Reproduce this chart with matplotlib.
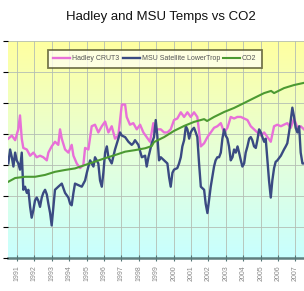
import numpy as np
import matplotlib
matplotlib.use("Agg")
import matplotlib.pyplot as plt
from matplotlib.colors import LinearSegmentedColormap

# ---------------- data ----------------
hadley_years = [1990.50, 1990.70, 1990.89, 1991.07, 1991.17, 1991.27, 1991.36, 1991.56, 1991.75, 1991.94,
                1992.13, 1992.32, 1992.51, 1992.71, 1992.80, 1992.99, 1993.18, 1993.37, 1993.47, 1993.57,
                1993.76, 1993.95, 1994.14, 1994.24, 1994.43, 1994.62, 1994.81, 1994.91, 1995.10, 1995.29,
                1995.48, 1995.67, 1995.87, 1996.06, 1996.25, 1996.44, 1996.63, 1996.82, 1997.02, 1997.21,
                1997.30, 1997.49, 1997.68, 1997.88, 1998.07, 1998.26, 1998.45, 1998.64, 1998.83, 1998.90,
                1999.06, 1999.26, 1999.45, 1999.64, 1999.83, 2000.02, 2000.21, 2000.41, 2000.60, 2000.79,
                2000.98, 2001.17, 2001.36, 2001.56, 2001.75, 2001.94, 2002.13, 2002.32, 2002.51, 2002.71,
                2002.90, 2003.09, 2003.28, 2003.47, 2003.66, 2003.86, 2004.05, 2004.24, 2004.43, 2004.62,
                2004.81, 2005.01, 2005.20, 2005.39, 2005.58, 2005.77, 2005.96, 2006.16, 2006.34, 2006.53,
                2006.73, 2006.92, 2007.11, 2007.30, 2007.49]
hadley_vals = [0.17, 0.19, 0.16, 0.23, 0.32, 0.17, 0.11, 0.10, 0.06, 0.08,
               0.05, 0.06, 0.05, 0.03, 0.08, 0.12, 0.15, 0.13, 0.23, 0.17,
               0.10, 0.08, 0.13, 0.06, 0.01, -0.02, 0.00, 0.11, 0.10, 0.25,
               0.26, 0.21, 0.25, 0.28, 0.21, 0.25, 0.17, 0.19, 0.39, 0.39,
               0.31, 0.26, 0.27, 0.23, 0.26, 0.21, 0.18, 0.15, 0.27, 0.21,
               0.23, 0.23, 0.21, 0.21, 0.23, 0.29, 0.30, 0.34, 0.31, 0.34,
               0.31, 0.34, 0.31, 0.12, 0.14, 0.18, 0.21, 0.24, 0.25, 0.27,
               0.21, 0.24, 0.31, 0.30, 0.31, 0.31, 0.30, 0.29, 0.25, 0.23,
               0.21, 0.19, 0.21, 0.18, 0.15, 0.25, 0.26, 0.25, 0.26, 0.27,
               0.24, 0.30, 0.24, 0.25, 0.23]

msu_years = [1990.50, 1990.60, 1990.70, 1990.79, 1990.89, 1990.98, 1991.07, 1991.17, 1991.27, 1991.36,
             1991.46, 1991.56, 1991.65, 1991.75, 1991.84, 1991.94, 1992.03, 1992.13, 1992.22, 1992.32,
             1992.42, 1992.51, 1992.61, 1992.71, 1992.80, 1992.90, 1992.99, 1993.09, 1993.18, 1993.37,
             1993.57, 1993.76, 1993.95, 1994.05, 1994.14, 1994.24, 1994.33, 1994.52, 1994.72, 1994.91,
             1995.01, 1995.10, 1995.20, 1995.29, 1995.39, 1995.48, 1995.67, 1995.77, 1995.87, 1995.96,
             1996.06, 1996.16, 1996.25, 1996.44, 1996.63, 1996.82, 1996.92, 1997.02, 1997.21, 1997.40,
             1997.59, 1997.68, 1997.78, 1997.97, 1998.17, 1998.36, 1998.45, 1998.55, 1998.74, 1998.87,
             1998.97, 1999.06, 1999.16, 1999.26, 1999.45, 1999.64, 1999.74, 1999.83, 1999.93, 2000.02,
             2000.21, 2000.31, 2000.41, 2000.50, 2000.60, 2000.70, 2000.79, 2000.89, 2000.98, 2001.08,
             2001.17, 2001.27, 2001.36, 2001.46, 2001.56, 2001.75, 2001.84, 2001.94, 2002.03, 2002.13,
             2002.22, 2002.32, 2002.41, 2002.51, 2002.61, 2002.71, 2002.80, 2002.90, 2002.99, 2003.09,
             2003.18, 2003.28, 2003.38, 2003.47, 2003.57, 2003.67, 2003.76, 2003.86, 2003.95, 2004.05,
             2004.14, 2004.24, 2004.34, 2004.43, 2004.52, 2004.62, 2004.72, 2004.81, 2004.91, 2005.01,
             2005.10, 2005.20, 2005.29, 2005.39, 2005.48, 2005.58, 2005.67, 2005.77, 2005.86, 2005.96,
             2006.16, 2006.34, 2006.44, 2006.53, 2006.63, 2006.73, 2006.82, 2006.92, 2007.01, 2007.11,
             2007.21, 2007.30, 2007.40, 2007.49]
msu_vals = [0.01, 0.10, 0.05, -0.01, 0.08, 0.03, 0.01, -0.03, 0.08, -0.16,
            -0.14, -0.18, -0.16, -0.27, -0.34, -0.29, -0.23, -0.21, -0.23, -0.27,
            -0.21, -0.18, -0.16, -0.19, -0.25, -0.31, -0.39, -0.27, -0.16, -0.14,
            -0.12, -0.18, -0.21, -0.25, -0.26, -0.18, -0.12, -0.13, -0.14, -0.10,
            -0.05, -0.01, 0.03, 0.01, -0.01, 0.05, 0.01, -0.10, -0.14, -0.05,
            0.08, 0.12, 0.05, 0.01, 0.10, 0.17, 0.21, 0.19, 0.18, 0.15,
            0.13, 0.14, 0.16, 0.13, 0.05, 0.06, -0.01, 0.05, 0.14, 0.18,
            0.29, 0.19, 0.03, 0.05, 0.03, 0.01, -0.08, -0.14, -0.05, -0.03,
            -0.02, 0.01, 0.05, 0.12, 0.16, 0.25, 0.23, 0.17, 0.21, 0.23,
            0.24, 0.21, 0.18, 0.01, -0.14, -0.16, -0.25, -0.31, -0.23, -0.14,
            -0.08, -0.01, 0.03, 0.05, 0.05, 0.08, 0.17, 0.23, 0.19, 0.17,
            0.12, 0.03, 0.05, 0.10, 0.08, 0.12, 0.08, 0.03, -0.01, 0.01,
            0.08, 0.12, 0.17, 0.18, 0.16, 0.12, 0.11, 0.16, 0.23, 0.21,
            0.18, 0.15, 0.17, 0.03, -0.10, -0.21, -0.10, -0.02, 0.02, 0.03,
            0.06, 0.10, 0.12, 0.14, 0.21, 0.29, 0.37, 0.31, 0.24, 0.21,
            0.25, 0.08, 0.01, 0.01]

co2_years = [1990.50, 1990.89, 1991.46, 1992.03, 1992.61, 1993.18, 1993.76, 1994.33, 1994.91, 1995.48,
             1996.06, 1996.63, 1997.21, 1997.78, 1998.36, 1998.74, 1998.87, 1999.45, 2000.02, 2000.60,
             2001.17, 2001.75, 2001.92, 2002.32, 2002.90, 2003.47, 2004.05, 2004.62, 2005.20, 2005.60,
             2005.77, 2006.34, 2006.92, 2007.49]
co2_ppm = [354.6, 355.8, 356.2, 356.2, 356.8, 357.8, 358.4, 358.9, 360.0, 361.1,
           362.2, 363.2, 364.3, 364.8, 365.4, 366.1, 367.4, 369.0, 371.0, 372.6,
           373.9, 374.8, 374.2, 375.5, 377.1, 378.4, 380.0, 381.6, 383.2, 383.9,
           383.2, 384.8, 385.8, 386.5]

tick_years = list(range(1991, 2008))
tick_labels = [str(y) for y in tick_years]

series_names = ["Hadley CRUT3", "MSU Satellite LowerTrop", "CO2"]

# ---------------- figure ----------------
fig = plt.figure(figsize=(3.04, 2.91), dpi=100)
ax = fig.add_axes([8 / 304, 1 - 258 / 291, 1 - 8 / 304, (258 - 41) / 291])

# gradient background (yellow top -> cyan bottom)
cmap = LinearSegmentedColormap.from_list(
    "bg", [(0.0, "#c8ffff"), (0.45, "#e4ffdc"), (1.0, "#ffffa0")])
grad = np.linspace(0, 1, 256).reshape(-1, 1)
ax.imshow(grad, cmap=cmap, aspect="auto", extent=[0, 1, 0, 1],
          transform=ax.transAxes, origin="lower", zorder=0)

ax.set_xlim(1990.48, 2007.49)
ax.set_ylim(-0.6, 0.8)
ax.set_yticks(np.arange(-0.6, 0.81, 0.2))
ax.set_xticks(tick_years)
ax.set_xticklabels(tick_labels, rotation=90, fontsize=5, color="#888888",
                   family="Liberation Sans")
ax.tick_params(axis="x", direction="inout", length=4, width=0.8, color="#557777", pad=3)
ax.tick_params(axis="y", left=False, labelleft=False)
ax.grid(True, color="#b4beb4", linewidth=0.6, zorder=1)
ax.set_axisbelow(False)
for s in ["left", "right", "top"]:
    ax.spines[s].set_visible(False)
ax.spines["bottom"].set_color("#5f7f7f")
ax.spines["bottom"].set_linewidth(1.8)

l1, = ax.plot(hadley_years, hadley_vals, color="#e870d8", lw=1.7, zorder=3, label=series_names[0])
l2, = ax.plot(msu_years, msu_vals, color="#3a4a82", lw=1.7, zorder=4, label=series_names[1])

ax2 = ax.twinx()
ax2.set_ylim(330, 400)
ax2.axis("off")
l3, = ax2.plot(co2_years, co2_ppm, color="#4c9a32", lw=1.5, zorder=5, label=series_names[2])

leg = ax2.legend(handles=[l1, l2, l3], loc="center", ncol=3, frameon=True, fancybox=False,
                 handlelength=2.4, handletextpad=0.3, columnspacing=0.5, borderpad=0.75,
                 prop={"family": "Liberation Sans", "size": 5.0})
leg.set_bbox_to_anchor((155 / 304, 1 - 59 / 291), transform=fig.transFigure)
leg.get_frame().set_edgecolor("#55552e")
leg.get_frame().set_linewidth(1.3)
leg.get_frame().set_facecolor("#fffff0")
for t in leg.get_texts():
    t.set_color("#555555")

fig.text(161 / 304, 1 - 17 / 291, "Hadley and MSU Temps vs CO2", ha="center", va="center",
         fontsize=9.5, family="Liberation Sans", color="#111111")

fig.savefig("out.png", dpi=100, facecolor="white")
